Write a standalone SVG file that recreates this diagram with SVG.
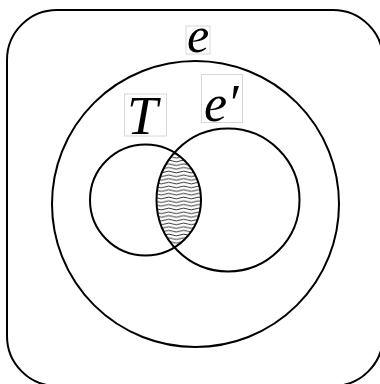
<svg xmlns="http://www.w3.org/2000/svg" width="380" height="384" viewBox="0 0 380 384">
<style>
.ln{fill:none;stroke:#000;stroke-width:2}
.lbl{font-family:"Liberation Serif","DejaVu Serif",serif;font-style:italic;fill:#000}
.box{fill:#fff;stroke:#d8d8d8;stroke-width:1}
</style>
<defs>
<pattern id="wave" patternUnits="userSpaceOnUse" width="15" height="3.7">
<path d="M0,1.85 Q3.75,0.2 7.5,1.85 T15,1.85" fill="none" stroke="#000" stroke-width="0.8"/>
</pattern>
<clipPath id="clipT"><circle cx="145.5" cy="200" r="55.5"/></clipPath>
</defs>
<rect x="0" y="0" width="380" height="384" fill="#fff"/>
<g id="universe"><rect class="ln" x="7" y="10" width="376" height="376" rx="50"/></g>
<g id="e">
<ellipse class="ln" cx="195.5" cy="204" rx="143.5" ry="143"/>
<rect class="box" x="186" y="26" width="24" height="28"/>
<text class="lbl" x="187" y="52" font-size="50">e</text>
</g>
<g id="intersection">
<circle cx="228" cy="200" r="71.5" fill="url(#wave)" clip-path="url(#clipT)"/>
</g>
<g id="T">
<circle class="ln" cx="145.5" cy="200" r="55.5"/>
<rect class="box" x="124.5" y="94" width="42" height="42"/>
<text class="lbl" x="127" y="134" font-size="55">T</text>
</g>
<g id="eprime">
<circle class="ln" cx="228" cy="200" r="71.5"/>
<rect class="box" x="201.5" y="74.5" width="41" height="48"/>
<text class="lbl" x="204" y="121" font-size="52">e′</text>
</g>
</svg>
